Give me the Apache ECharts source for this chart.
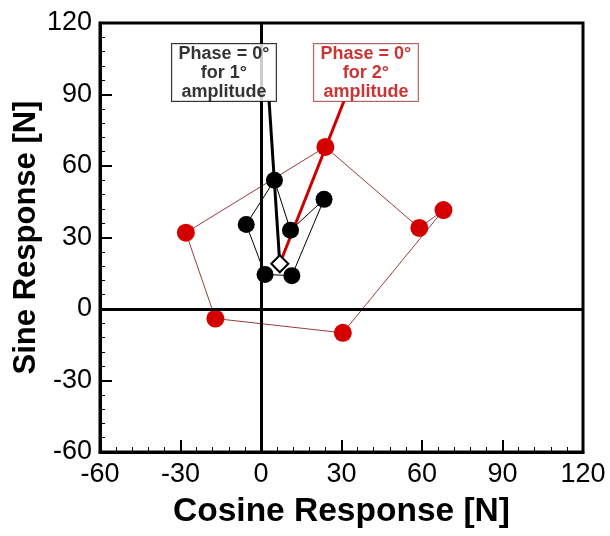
<!DOCTYPE html>
<html>
<head>
<meta charset="utf-8">
<script src="https://cdn.jsdelivr.net/npm/echarts@6/dist/echarts.min.js"></script>
<style>
  html, body { margin: 0; padding: 0; background: #fff; }
  #chart { width: 610px; height: 536px; }
</style>
</head>
<body>
<div id="chart"></div>
<script>
// axis range / ticks
var axisMin = -60, axisMax = 120, axisStep = 30;

// 2 deg amplitude loop (red)
var redCos = [-28, -17, 30.5, 68, 59, 24];
var redSin = [32, -4, -10, 41.5, 34, 68];

// 1 deg amplitude loop (black)
var blackCos = [-5.5, 1.5, 11.5, 23.5, 11, 5];
var blackSin = [35.5, 14.5, 14, 46, 33, 54];

// phase = 0 point, leader line ends, note anchors
var zeroPoint = [7, 19];
var leaderTop1 = [3, 87.5];
var leaderTop2 = [31, 87.5];
var note1Pos = [-13.8, 99.2];
var note2Pos = [39.1, 99.2];
var note1Text = ['Phase = 0°', 'for 1°', 'amplitude'];
var note2Text = ['Phase = 0°', 'for 2°', 'amplitude'];

var FONT = '"Liberation Sans", Arial, sans-serif';

function pairs (xs, ys, close) {
  var out = xs.map(function (x, i) { return [x, ys[i]] });
  if (close) out.push(out[0].slice());
  return out;
}

function note (pos, lines, color, border) {
  return {
    type: 'scatter',
    data: [pos],
    symbolSize: 1,
    itemStyle: { color: 'rgba(0,0,0,0)' },
    z: 10,
    silent: true,
    label: {
      show: true,
      position: 'inside',
      formatter: lines.join('\n'),
      color: color,
      fontFamily: FONT,
      fontWeight: 'bold',
      fontSize: 18,
      lineHeight: 19,
      align: 'center',
      verticalAlign: 'middle',
      width: 104,
      height: 57,
      backgroundColor: '#fff',
      borderColor: border,
      borderWidth: 1
    }
  };
}

var chart = echarts.init(document.getElementById('chart'));

var option = {
  animation: false,
  backgroundColor: '#fff',
  grid: {
    left: 100, right: 27, top: 23, bottom: 84,
    outerBoundsMode: 'none',
    show: true,
    borderColor: '#000',
    borderWidth: 3
  },
  xAxis: {
    type: 'value',
    min: axisMin, max: axisMax, interval: axisStep,
    name: 'Cosine Response [N]',
    nameLocation: 'middle',
    nameGap: 43,
    nameMoveOverlap: false,
    nameTextStyle: { fontFamily: FONT, fontWeight: 'bold', fontSize: 33.5, color: '#000' },
    axisLine: { onZero: false, lineStyle: { color: '#000', width: 3 } },
    axisTick: { inside: true, length: 12, lineStyle: { color: '#000', width: 2 } },
    minorTick: { show: true, splitNumber: 5, length: 5, lineStyle: { color: '#000', width: 1 } },
    splitLine: { show: false },
    axisLabel: { fontFamily: FONT, fontSize: 27, color: '#000', margin: 9 }
  },
  yAxis: {
    type: 'value',
    min: axisMin, max: axisMax, interval: axisStep,
    name: 'Sine Response [N]',
    nameLocation: 'middle',
    nameGap: 58,
    nameMoveOverlap: false,
    nameTextStyle: { fontFamily: FONT, fontWeight: 'bold', fontSize: 31, color: '#000' },
    axisLine: { onZero: false, lineStyle: { color: '#000', width: 3 } },
    axisTick: { inside: true, length: 12, lineStyle: { color: '#000', width: 2 } },
    minorTick: { show: true, splitNumber: 5, length: 5, lineStyle: { color: '#000', width: 1 } },
    splitLine: { show: false },
    axisLabel: { fontFamily: FONT, fontSize: 27, color: '#000', margin: 8 }
  },
  series: [
    {
      // zero lines
      type: 'line',
      data: [],
      markLine: {
        silent: true,
        symbol: 'none',
        label: { show: false },
        lineStyle: { color: '#000', width: 3, type: 'solid' },
        data: [{ xAxis: 0 }, { yAxis: 0 }]
      }
    },
    {
      name: '2deg',
      type: 'line',
      data: pairs(redCos, redSin, true),
      symbol: 'none',
      lineStyle: { color: '#9c3c3c', width: 1 },
      z: 2
    },
    {
      type: 'line',
      data: [zeroPoint, leaderTop2],
      symbol: 'none',
      lineStyle: { color: '#cc0000', width: 3 },
      z: 3
    },
    {
      type: 'scatter',
      data: pairs(redCos, redSin, false),
      symbolSize: 18,
      itemStyle: { color: '#d40000', opacity: 1 },
      z: 4
    },
    {
      name: '1deg',
      type: 'line',
      data: pairs(blackCos, blackSin, true),
      symbol: 'none',
      lineStyle: { color: '#000', width: 1 },
      z: 5
    },
    {
      type: 'line',
      data: [zeroPoint, leaderTop1],
      symbol: 'none',
      lineStyle: { color: '#000', width: 3 },
      z: 6
    },
    {
      type: 'scatter',
      data: pairs(blackCos, blackSin, false),
      symbolSize: 17,
      itemStyle: { color: '#000', opacity: 1 },
      z: 7
    },
    {
      type: 'scatter',
      data: [zeroPoint],
      symbol: 'diamond',
      symbolSize: [17, 17],
      itemStyle: { color: '#fff', borderColor: '#000', borderWidth: 2, opacity: 1 },
      z: 8
    },
    note(note1Pos, note1Text, '#000', '#000'),
    note(note2Pos, note2Text, '#c00000', '#9c3c3c')
  ]
};

chart.setOption(option);
</script>
</body>
</html>
